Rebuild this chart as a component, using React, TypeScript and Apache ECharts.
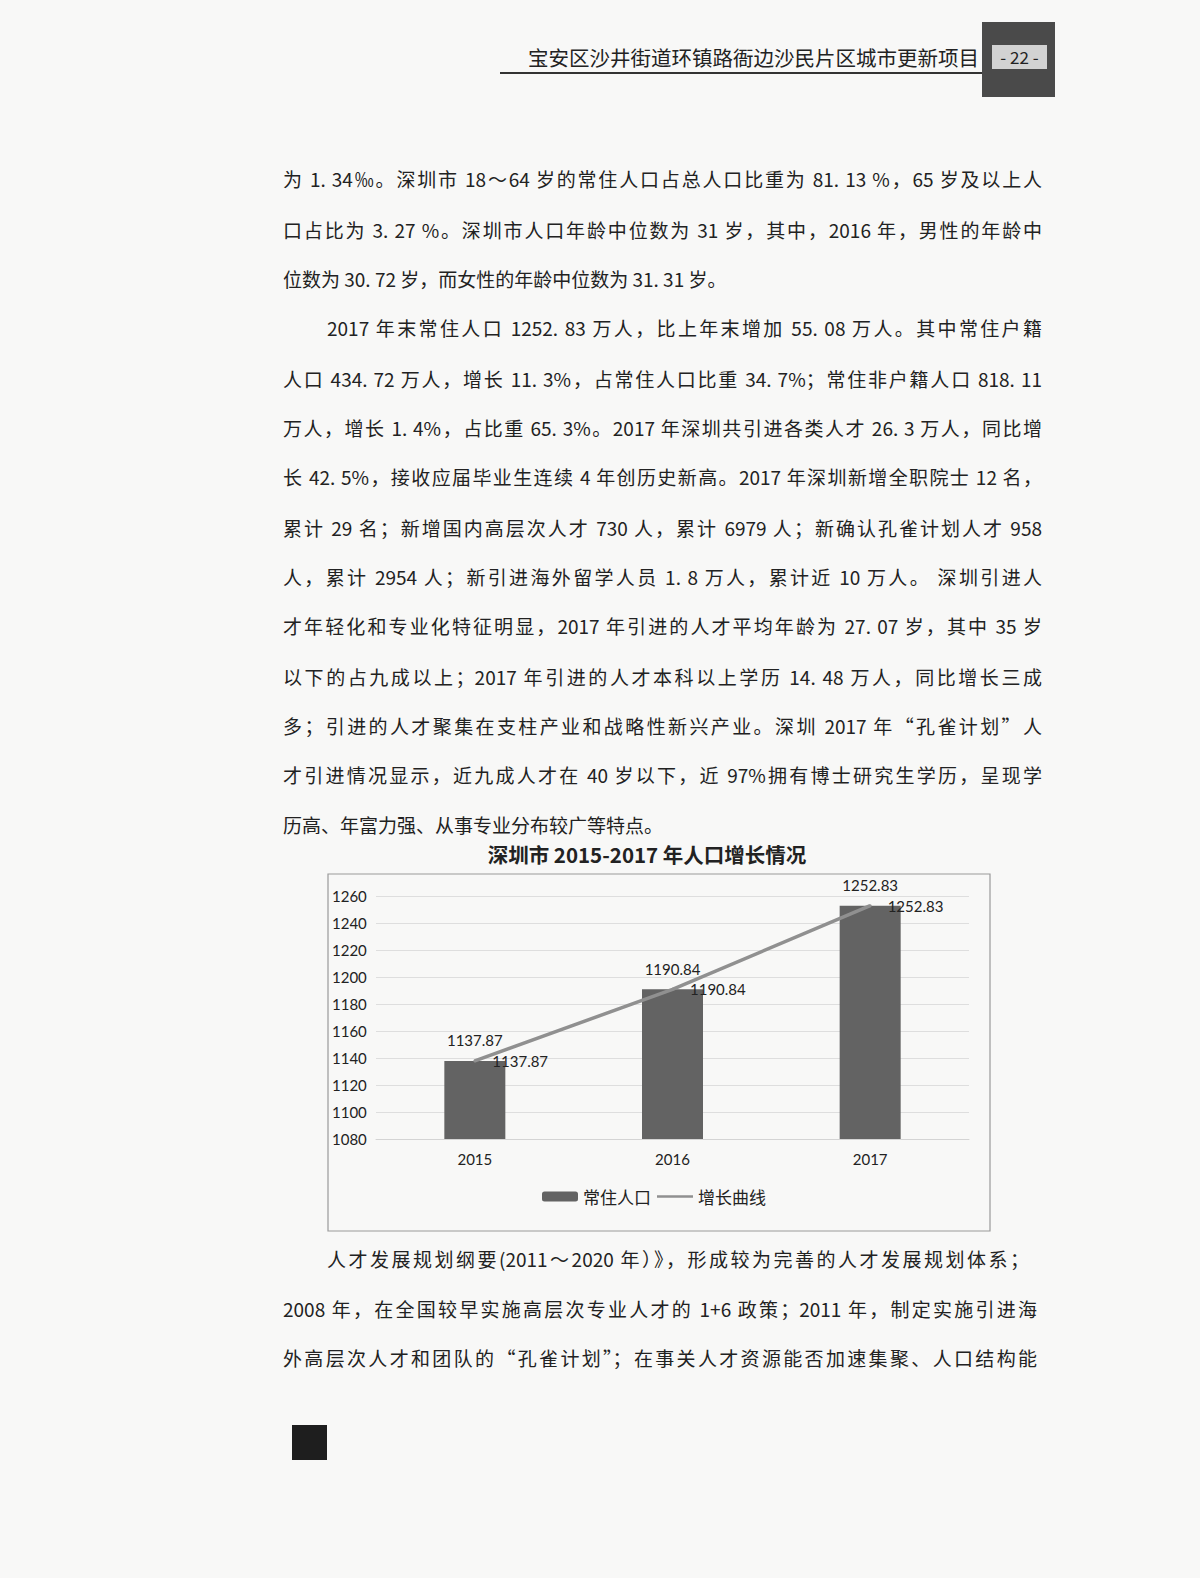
import * as echarts from 'echarts'
import type { EChartsOption } from 'echarts'
import { useEffect, useRef } from 'react'

// 图表数据
const years = ['2015', '2016', '2017']
const population = [1137.87, 1190.84, 1252.83]
const growthCurve = [1137.87, 1190.84, 1252.83]
const yMin = 1080
const yMax = 1260
const yStep = 20

const chartTitle = '深圳市 2015-2017 年人口增长情况'
const barName = '常住人口'
const lineName = '增长曲线'

// 正文行
const para1 = [
  { t: '为 1. 34‰。深圳市 18～64 岁的常住人口占总人口比重为 81. 13 %，65 岁及以上人', y: 179 },
  { t: '口占比为 3. 27 %。深圳市人口年龄中位数为 31 岁，其中，2016 年，男性的年龄中', y: 230 },
  { t: '位数为 30. 72 岁，而女性的年龄中位数为 31. 31 岁。', y: 279, last: true },
  { t: '2017 年末常住人口 1252. 83 万人，比上年末增加 55. 08 万人。其中常住户籍', y: 328, indent: true },
  { t: '人口 434. 72 万人，增长 11. 3%，占常住人口比重 34. 7%；常住非户籍人口 818. 11', y: 379 },
  { t: '万人，增长 1. 4%，占比重 65. 3%。2017 年深圳共引进各类人才 26. 3 万人，同比增', y: 428 },
  { t: '长 42. 5%，接收应届毕业生连续 4 年创历史新高。2017 年深圳新增全职院士 12 名，', y: 477 },
  { t: '累计 29 名；新增国内高层次人才 730 人，累计 6979 人；新确认孔雀计划人才 958', y: 528 },
  { t: '人，累计 2954 人；新引进海外留学人员 1. 8 万人，累计近 10 万人。 深圳引进人', y: 577 },
  { t: '才年轻化和专业化特征明显，2017 年引进的人才平均年龄为 27. 07 岁，其中 35 岁', y: 626 },
  { t: '以下的占九成以上；2017 年引进的人才本科以上学历 14. 48 万人，同比增长三成', y: 677 },
  { t: '多；引进的人才聚集在支柱产业和战略性新兴产业。深圳 2017 年“孔雀计划”人', y: 726 },
  { t: '才引进情况显示，近九成人才在 40 岁以下，近 97%拥有博士研究生学历，呈现学', y: 775 },
  { t: '历高、年富力强、从事专业分布较广等特点。', y: 825, last: true },
  { t: '人才发展规划纲要(2011～2020 年）》，形成较为完善的人才发展规划体系；', y: 1259, indent: true, right: 1029 },
  { t: '2008 年，在全国较早实施高层次专业人才的 1+6 政策；2011 年，制定实施引进海', y: 1309, right: 1037 },
  { t: '外高层次人才和团队的“孔雀计划”；在事关人才资源能否加速集聚、人口结构能', y: 1358, right: 1037 },
]

const cjk = '"Noto Sans CJK SC", "Noto Sans", sans-serif'

const PopChart = () => {
  const chartRef = useRef<HTMLDivElement | null>(null)
  useEffect(() => {
    if (!chartRef.current) return
    const myChart = echarts.init(chartRef.current, null, { renderer: 'svg' })
    const option: EChartsOption = {
      animation: false,
      title: {
        text: chartTitle,
        left: 322,
        textAlign: 'center',
        top: 4,
        textStyle: { fontFamily: cjk, fontSize: 20.5, fontWeight: 'bold', color: '#222' },
      },
      graphic: [
        {
          type: 'rect',
          shape: { x: 8, y: 39, width: 662, height: 357 },
          style: { fill: 'transparent', stroke: '#9a9a9a', lineWidth: 1.2 },
          silent: true,
        },
      ],
      legend: {
        left: 217,
        top: 348,
        itemWidth: 36,
        itemHeight: 10,
        itemGap: 6,
        textStyle: { fontFamily: cjk, fontSize: 17, color: '#222' },
        data: [
          { name: barName },
          { name: lineName, icon: 'path://M0,0 L36,0 L36,2.5 L0,2.5 Z' },
        ],
      },
      grid: { left: 56, top: 61, width: 593, height: 243 },
      xAxis: {
        type: 'category',
        data: years,
        axisTick: { show: false },
        axisLine: { lineStyle: { color: '#d4d4d4' } },
        axisLabel: { margin: 12, fontFamily: 'Lato', fontSize: 15, color: '#222' },
      },
      yAxis: {
        type: 'value',
        min: yMin,
        max: yMax,
        interval: yStep,
        axisLabel: {
          align: 'left',
          margin: 44,
          fontFamily: 'Lato',
          fontSize: 15,
          color: '#222',
          formatter: (v: number) => String(v),
        },
        splitLine: { lineStyle: { color: '#dedede', width: 1 } },
      },
      series: [
        {
          name: barName,
          type: 'bar',
          data: population,
          barWidth: 61,
          itemStyle: { color: '#636363' },
          label: {
            show: true,
            position: 'top',
            distance: 13,
            fontFamily: 'Lato',
            fontSize: 15,
            color: '#222',
          },
        },
        {
          name: lineName,
          type: 'line',
          data: growthCurve,
          symbol: 'circle',
          symbolSize: 3,
          lineStyle: { color: '#909090', width: 3.5 },
          itemStyle: { color: '#909090' },
          z: 5,
          label: {
            show: true,
            position: 'right',
            distance: 16,
            fontFamily: 'Lato',
            fontSize: 15,
            color: '#222',
          },
        },
      ],
    }
    myChart.setOption(option)
    return () => {
      myChart.dispose()
    }
  }, [])
  return (
    <div
      ref={chartRef}
      style={{ position: 'absolute', left: 320, top: 835, width: 680, height: 405 }}
    ></div>
  )
}

const App = () => {
  return (
    <div
      style={{
        position: 'absolute',
        left: 0,
        top: 0,
        width: 1200,
        height: 1578,
        background: '#f8f8f7',
        fontFamily: cjk,
        color: '#222',
        overflow: 'hidden',
      }}
    >
      {/* 页眉 */}
      <div
        style={{
          position: 'absolute',
          left: 500,
          top: 42,
          width: 479,
          textAlign: 'right',
          fontSize: 20.5,
          lineHeight: '30px',
          color: '#222',
        }}
      >
        宝安区沙井街道环镇路衙边沙民片区城市更新项目
      </div>
      <div style={{ position: 'absolute', left: 500, top: 72, width: 482, height: 2, background: '#333' }}></div>
      <div style={{ position: 'absolute', left: 982, top: 22, width: 73, height: 75, background: '#4a4a4a' }}></div>
      <div
        style={{
          position: 'absolute',
          left: 992,
          top: 45,
          width: 55,
          height: 24,
          background: '#d2d2d2',
          fontSize: 17,
          lineHeight: '24px',
          textAlign: 'center',
          color: '#222',
        }}
      >
        - 22 -
      </div>

      {/* 正文 */}
      {para1.map((l, i) => {
        const left = l.indent ? 327 : 283
        const right = l.right ?? 1042
        return (
          <div
            key={i}
            style={{
              position: 'absolute',
              left,
              top: l.y - 15,
              width: l.last ? 760 : right - left,
              fontSize: 19,
              lineHeight: '30px',
              textAlign: l.last ? 'left' : 'justify',
              textAlignLast: l.last ? 'left' : 'justify',
            }}
          >
            {l.t}
          </div>
        )
      })}

      <PopChart />

      <div style={{ position: 'absolute', left: 292, top: 1425, width: 35, height: 35, background: '#1e1e1e' }}></div>
    </div>
  )
}

export default App
